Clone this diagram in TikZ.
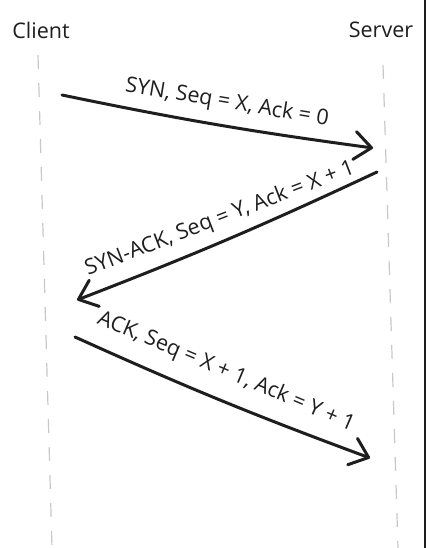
\documentclass[tikz,border=0pt]{standalone}
\usepackage{fontspec}
\setmainfont{Open Sans}
\usetikzlibrary{arrows.meta}
\definecolor{ink}{HTML}{1E1E1E}
\definecolor{lifegray}{HTML}{C8C8C8}
\begin{document}
\begin{tikzpicture}[x=1pt, y=-1pt, font=\fontsize{21.5}{24}\selectfont, text=ink,
  msg/.style={ink, line width=3pt, line cap=round, -{Straight Barb[length=17pt, width=28pt, line width=3pt, round]}},
  life/.style={lifegray, line width=1.2pt, dash pattern=on 14pt off 14pt}]
\useasboundingbox (0,0) rectangle (427,548);
\node (Client) at (41,30) {Client};
\node (Server) at (381,30) {Server};
\coordinate (C_top) at (38,55);
\coordinate (C_bot) at (52,548);
\coordinate (S_top) at (383,65);
\coordinate (S_bot) at (398,548);
\draw[life] (C_top) -- (C_bot);
\draw[life] (S_top) -- (S_bot);
\coordinate (P_0_0) at (62,95);
\coordinate (P_0_1) at (373,148);
\draw[msg] (P_0_0) to[bend right=2] (P_0_1);
\node[rotate=-9.5] (L_0) at (227,103) {SYN, Seq = X, Ack = 0};
\coordinate (P_1_0) at (377,172);
\coordinate (P_1_1) at (77,300);
\draw[msg] (P_1_0) to[bend left=2] (P_1_1);
\node[rotate=21] (L_1) at (220,219) {SYN-ACK, Seq = Y, Ack = X + 1};
\coordinate (P_2_0) at (75,337);
\coordinate (P_2_1) at (370,458);
\draw[msg] (P_2_0) to[bend right=2] (P_2_1);
\node[rotate=-23] (L_2) at (226,372) {ACK, Seq = X + 1, Ack = Y + 1};
\draw[ink, line width=1.5pt] (425,0) -- (425,548);
\end{tikzpicture}
\end{document}
